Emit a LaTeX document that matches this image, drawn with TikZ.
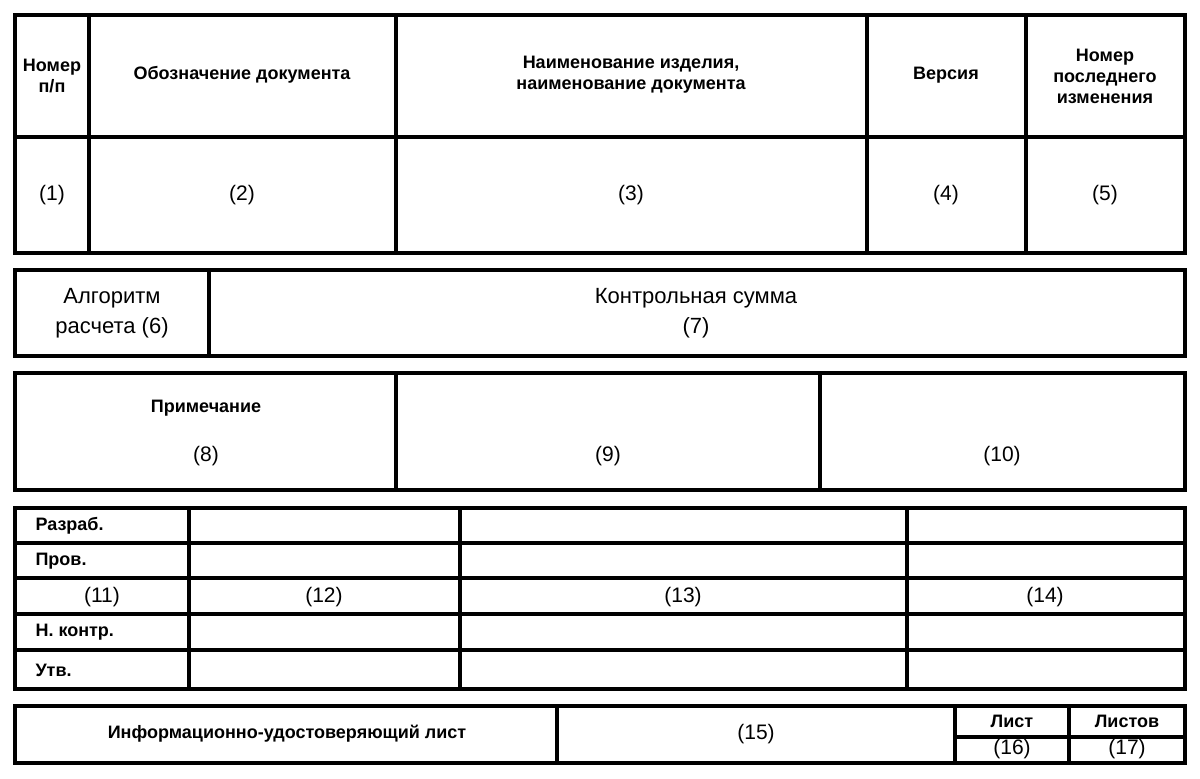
\documentclass[tikz,border=0pt]{standalone}
\usepackage{fontspec}
\setmainfont{Liberation Sans}
\begin{document}
\begin{tikzpicture}[x=1pt,y=-1pt,
  ln/.style={line width=3.5pt},
  hd/.style={font=\fontsize{18}{21}\selectfont\bfseries, align=center},
  nm/.style={font=\fontsize{21}{24}\selectfont, align=center},
  big/.style={font=\fontsize{22}{30}\selectfont, align=center}]
\useasboundingbox (0,0) rectangle (1200,779);
% block 1
\draw[ln] (15,15) rectangle (1185,253);
\draw[ln] (15,137) -- (1185,137);
\foreach \x in {89,396,867,1026} \draw[ln] (\x,15) -- (\x,253);
\node[hd] (h1) at (52,76) {Номер\\п/п};
\node[hd] (h2) at (242,75) {Обозначение документа};
\node[hd] (h3) at (631,75) {Наименование изделия,\\наименование документа};
\node[hd] (h4) at (946,75) {Версия};
\node[hd] (h5) at (1105,76) {Номер\\последнего\\изменения};
\node[nm] (n1) at (52,195) {(1)};
\node[nm] (n2) at (242,195) {(2)};
\node[nm] (n3) at (631,195) {(3)};
\node[nm] (n4) at (946,195) {(4)};
\node[nm] (n5) at (1105,195) {(5)};
% block 2
\draw[ln] (15,270) rectangle (1185,356);
\draw[ln] (209,270) -- (209,356);
\node[big] (n6) at (112,313) {Алгоритм\\расчета (6)};
\node[big] (n7) at (696,313) {Контрольная сумма\\(7)};
% block 3
\draw[ln] (15,373) rectangle (1185,490);
\draw[ln] (396,373) -- (396,490);
\draw[ln] (820,373) -- (820,490);
\node[hd] (pr) at (206,408) {Примечание};
\node[nm] (n8) at (206,456) {(8)};
\node[nm] (n9) at (608,456) {(9)};
\node[nm] (n10) at (1002,456) {(10)};
% block 4
\draw[ln] (15,508) rectangle (1185,689);
\foreach \y in {543,578,614,650} \draw[ln] (15,\y) -- (1185,\y);
\foreach \x in {189,460,907} \draw[ln] (\x,508) -- (\x,689);
\node[hd,anchor=west] (r1) at (32,526) {Разраб.};
\node[hd,anchor=west] (r2) at (32,561) {Пров.};
\node[hd,anchor=west] (r4) at (32,632) {Н. контр.};
\node[hd,anchor=west] (r5) at (32,670) {Утв.};
\node[nm] (n11) at (102,597) {(11)};
\node[nm] (n12) at (324,597) {(12)};
\node[nm] (n13) at (683,597) {(13)};
\node[nm] (n14) at (1045,597) {(14)};
% block 5
\draw[ln] (15,706) rectangle (1185,763);
\draw[ln] (557,706) -- (557,763);
\draw[ln] (955,706) -- (955,763);
\draw[ln] (1069,706) -- (1069,763);
\draw[ln] (955,737) -- (1185,737);
\node[hd] (il) at (287,734) {Информационно-удостоверяющий лист};
\node[nm] (n15) at (756,734) {(15)};
\node[hd] (ls) at (1012,721) {Лист};
\node[hd] (lss) at (1127,721) {Листов};
\node[nm] (n16) at (1012,749) {(16)};
\node[nm] (n17) at (1127,749) {(17)};
\end{tikzpicture}
\end{document}
